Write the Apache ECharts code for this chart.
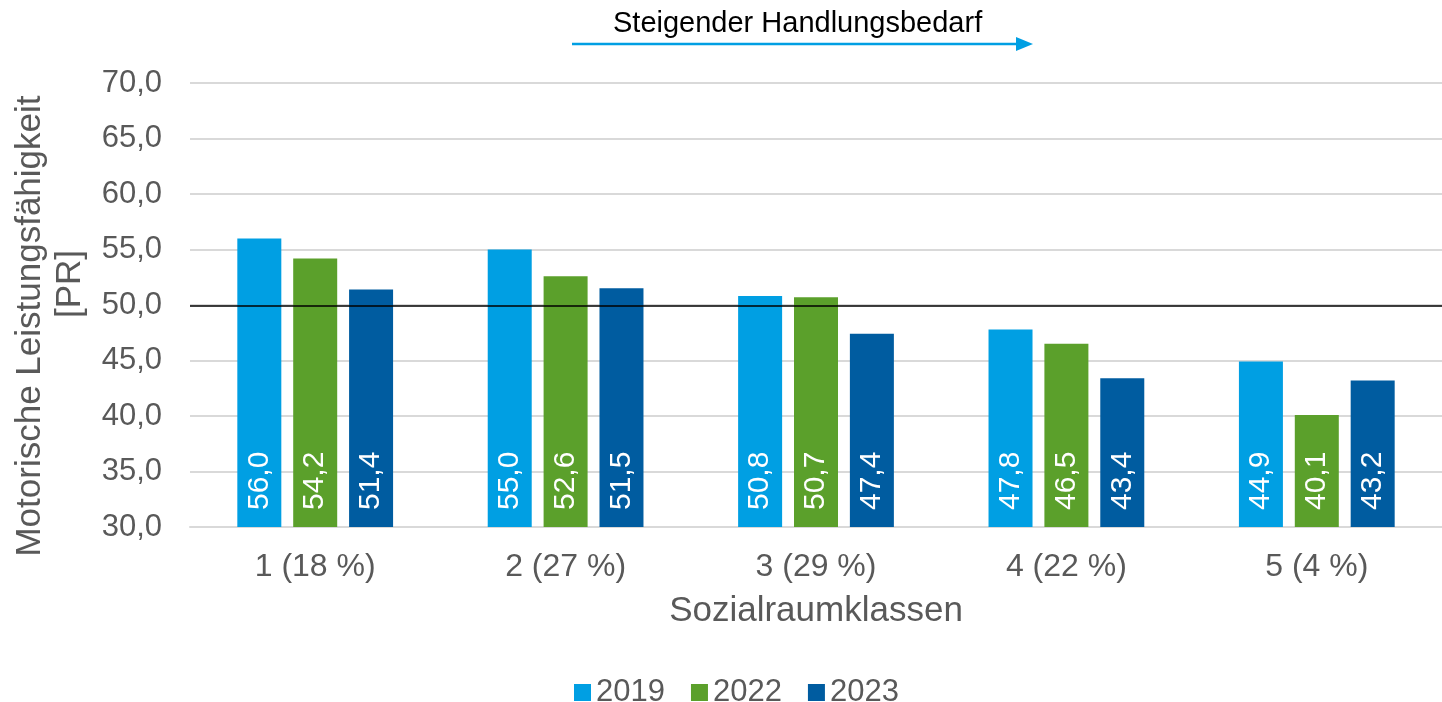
<!DOCTYPE html>
<html><head><meta charset="utf-8">
<script src="https://cdn.jsdelivr.net/npm/echarts@6/dist/echarts.min.js"></script>
<style>html,body{margin:0;padding:0;background:#fff}#c{width:1442px;height:702px}</style>
</head><body><div id="c"></div>
<script>
const categories = ['1 (18 %)', '2 (27 %)', '3 (29 %)', '4 (22 %)', '5 (4 %)'];
const s2019 = [56.0, 55.0, 50.8, 47.8, 44.9];
const s2022 = [54.2, 52.6, 50.7, 46.5, 40.1];
const s2023 = [51.4, 51.5, 47.4, 43.4, 43.2];
const seriesNames = ['2019', '2022', '2023'];
const colors = ['#009fe3', '#5ba02b', '#005ca0'];
const refValue = 49.9;

const font = 'Liberation Sans, Arial, sans-serif';
const fmt = v => v.toFixed(1).replace('.', ',');
const chart = echarts.init(document.getElementById('c'));
const mk = (name, data, color, i) => ({
  name, type: 'bar', data, barWidth: 44, barGap: '27%',
  itemStyle: { color },
  label: {
    show: true, position: 'insideBottom', rotate: 90, distance: 17,
    align: 'left', verticalAlign: 'middle',
    color: '#fff', fontSize: 30, fontFamily: font,
    formatter: p => fmt(p.value)
  },
  markLine: i === 0 ? {
    silent: true, symbol: 'none', label: { show: false },
    lineStyle: { color: '#000', width: 1.5, type: 'solid' },
    data: [{ yAxis: refValue }]
  } : undefined
});
chart.setOption({
  animation: false,
  textStyle: { fontFamily: font },
  grid: { left: 190, right: 0, top: 83, bottom: 175, containLabel: false, outerBoundsMode: 'none' },
  legend: {
    top: 672, left: 569, itemWidth: 17, itemHeight: 17, itemGap: 26,
    icon: 'rect', textStyle: { fontSize: 31, color: '#595959', fontFamily: font },
    data: seriesNames
  },
  xAxis: {
    type: 'category', data: categories,
    axisLine: { lineStyle: { color: '#d9d9d9', width: 2 } },
    axisTick: { show: false },
    axisLabel: { fontSize: 32, color: '#595959', margin: 24 },
    name: 'Sozialraumklassen', nameLocation: 'middle', nameGap: 67,
    nameTextStyle: { fontSize: 35, color: '#595959' }
  },
  yAxis: {
    type: 'value', min: 30, max: 70, interval: 5,
    axisLabel: { fontSize: 31, color: '#595959', margin: 28, formatter: v => fmt(v) },
    splitLine: { lineStyle: { color: '#d9d9d9', width: 2 } },
    axisLine: { show: false }, axisTick: { show: false },
    name: '{a|Motorische Leistungsfähigkeit}\n{b|[PR]}', nameLocation: 'middle', nameGap: 95,
    nameTextStyle: {
      fontSize: 35, color: '#595959', lineHeight: 40,
      rich: {
        a: { fontSize: 35, color: '#595959', lineHeight: 40, padding: [0, 42, 0, 0] },
        b: { fontSize: 35, color: '#595959', lineHeight: 40, padding: [0, 0, 0, 42] }
      }
    }
  },
  graphic: [
    { type: 'text', left: 613, top: 9, style: { text: 'Steigender Handlungsbedarf', fontSize: 29, fill: '#000', fontFamily: font } },
    { type: 'line', shape: { x1: 572, y1: 44, x2: 1020, y2: 44 }, style: { stroke: '#009fe3', lineWidth: 2.5 } },
    { type: 'polygon', shape: { points: [[1016, 37], [1033, 44], [1016, 51]] }, style: { fill: '#009fe3' } }
  ],
  series: [mk(seriesNames[0], s2019, colors[0], 0), mk(seriesNames[1], s2022, colors[1], 1), mk(seriesNames[2], s2023, colors[2], 2)]
});
</script></body></html>
